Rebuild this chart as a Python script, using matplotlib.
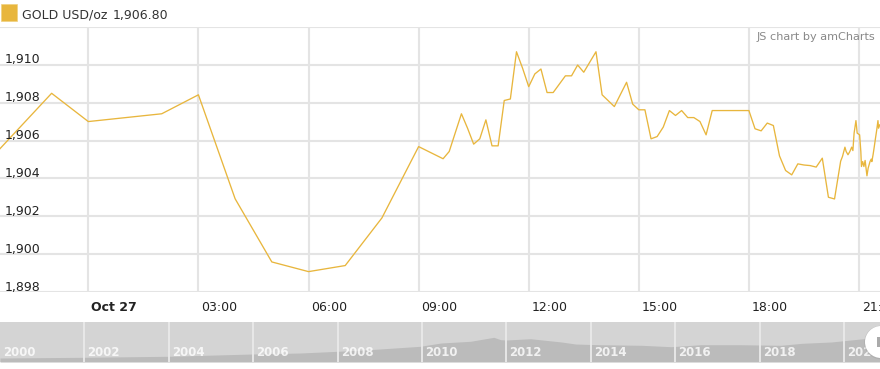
import pandas as pd
import matplotlib
matplotlib.use("Agg")
import matplotlib.pyplot as plt
import matplotlib.dates as mdates
import matplotlib.transforms as mtransforms
from matplotlib.patches import Rectangle, Circle

# gold price, Oct 26 21:35 -> Oct 27 21:34 (2020)
gold_time = [
    "26 21:35", "26 23:00", "27 00:00", "27 02:00", "27 03:00", "27 04:00",
    "27 05:00", "27 06:00", "27 07:00", "27 08:00", "27 09:00", "27 09:40",
    "27 09:50", "27 10:10", "27 10:20", "27 10:30", "27 10:40", "27 10:50",
    "27 11:00", "27 11:10", "27 11:20", "27 11:30", "27 11:40", "27 11:50",
    "27 12:00", "27 12:10", "27 12:20", "27 12:30", "27 12:40", "27 13:00",
    "27 13:10", "27 13:20", "27 13:30", "27 13:50", "27 14:00", "27 14:20",
    "27 14:40", "27 14:50", "27 15:00", "27 15:10", "27 15:20", "27 15:30",
    "27 15:40", "27 15:50", "27 16:00", "27 16:10", "27 16:20", "27 16:30",
    "27 16:40", "27 16:50", "27 17:00", "27 18:00", "27 18:10", "27 18:20",
    "27 18:30", "27 18:40", "27 18:50", "27 19:00", "27 19:10", "27 19:20",
    "27 19:30", "27 19:40", "27 19:50", "27 20:00", "27 20:10", "27 20:20",
    "27 20:30", "27 20:33", "27 20:37", "27 20:39", "27 20:42", "27 20:45",
    "27 20:48", "27 20:50", "27 20:52", "27 20:55", "27 20:56", "27 20:57",
    "27 21:01", "27 21:03", "27 21:04", "27 21:06", "27 21:08", "27 21:10",
    "27 21:13", "27 21:15", "27 21:18", "27 21:20", "27 21:21", "27 21:23",
    "27 21:25", "27 21:27", "27 21:29", "27 21:31", "27 21:32", "27 21:34",
]
gold_price = [
    1905.55, 1908.49, 1907.00, 1907.41, 1908.41, 1902.93,
    1899.60, 1899.09, 1899.41, 1901.92, 1905.68, 1905.04,
    1905.42, 1907.41, 1906.65, 1905.81, 1906.09, 1907.09,
    1905.72, 1905.72, 1908.11, 1908.19, 1910.68, 1909.81,
    1908.84, 1909.51, 1909.77, 1908.53, 1908.53, 1909.41,
    1909.41, 1909.98, 1909.60, 1910.68, 1908.41, 1907.79,
    1909.07, 1907.92, 1907.62, 1907.62, 1906.09, 1906.21,
    1906.71, 1907.58, 1907.32, 1907.58, 1907.21, 1907.21,
    1907.00, 1906.30, 1907.58, 1907.58, 1906.62, 1906.51,
    1906.92, 1906.79, 1905.19, 1904.42, 1904.19, 1904.77,
    1904.71, 1904.68, 1904.60, 1905.07, 1903.01, 1902.92,
    1904.91, 1905.16, 1905.65, 1905.42, 1905.25, 1905.42,
    1905.65, 1905.47, 1906.39, 1907.05, 1906.74, 1906.39,
    1906.30, 1905.42, 1904.63, 1904.89, 1904.63, 1904.95,
    1904.14, 1904.55, 1904.89, 1905.02, 1904.89, 1905.25,
    1905.68, 1906.13, 1906.56, 1907.05, 1906.65, 1906.83,
]
y_ticks = [1898, 1900, 1902, 1904, 1906, 1908, 1910]
x_tick_hours = [0, 3, 6, 9, 12, 15, 18, 21]

# long history shown in the scrollbar
hist_year = [2000.0, 2002.0, 2004.0, 2006.0, 2007.1, 2008.0, 2008.5, 2009.0,
             2009.95, 2010.45, 2011.15, 2011.7, 2011.86, 2012.0, 2012.57,
             2013.3, 2013.64, 2014.2, 2015.2, 2015.9, 2016.6, 2017.55,
             2018.5, 2019.0, 2019.7, 2020.45, 2020.85]
hist_price = [280, 335, 415, 595, 670, 805, 885, 985, 1195, 1455, 1590, 1900,
              1715, 1690, 1790, 1535, 1375, 1320, 1275, 1165, 1320, 1320,
              1275, 1430, 1535, 1790, 1790]
hist_labels = list(range(2000, 2021, 2))

GOLD = "#e8b63d"
GRID = "#e4e4e4"

fig = plt.figure(figsize=(8.8, 3.69), dpi=100)
W, H = 880, 369

ax = fig.add_axes([0, (H - 292.3) / H, 1, (292.3 - 26.7) / H])
t = mdates.date2num(pd.to_datetime(["2020-10-" + s for s in gold_time]).to_pydatetime())
ax.plot(t, gold_price, color=GOLD, lw=0.95, zorder=3)

day0 = pd.Timestamp("2020-10-27 00:00")
ax.set_xlim(mdates.date2num(pd.Timestamp("2020-10-26 21:35:36").to_pydatetime()),
            mdates.date2num(pd.Timestamp("2020-10-27 21:34:20").to_pydatetime()))
ax.set_ylim(1898, 1912)
tick_pos = [mdates.date2num((day0 + pd.Timedelta(hours=h)).to_pydatetime()) for h in x_tick_hours]
ax.set_xticks(tick_pos)
ax.set_yticks(list(range(1898, 1913, 2)))
ax.grid(True, color=GRID, lw=1.5, zorder=0)
ax.tick_params(length=0, labelbottom=False, labelleft=False)
for s in ax.spines.values():
    s.set_visible(False)

# y labels inside the plot, sitting on the grid lines
ytr = mtransforms.blended_transform_factory(ax.transAxes, ax.transData) + \
    mtransforms.ScaledTranslation(0.05, 0.015, fig.dpi_scale_trans)
for v in y_ticks:
    ax.text(0, v, f"{v:,}", transform=ytr, fontsize=9, color="#222222",
            ha="left", va="baseline")

# x labels left-aligned next to the grid lines
xtr = mtransforms.blended_transform_factory(ax.transData, ax.transAxes) + \
    mtransforms.ScaledTranslation(0.03, 0, fig.dpi_scale_trans)
for h, p in zip(x_tick_hours, tick_pos):
    if h == 0:
        ax.text(p, -0.059, "Oct 27", transform=xtr, fontsize=9, fontweight="bold",
                color="#222222", ha="left", va="center", clip_on=False)
    else:
        ax.text(p, -0.059, f"{h:02d}:00", transform=xtr, fontsize=9,
                color="#222222", ha="left", va="center", clip_on=False)

# legend + credit
fig.add_artist(Rectangle((1 / W, (H - 21) / H), 16 / W, 17 / H, transform=fig.transFigure,
                         facecolor=GOLD, edgecolor="#f0d080", lw=0.5))
fig.text(22 / W, 1 - 15 / H, "GOLD USD/oz", fontsize=9, color="#333333", va="center")
fig.text(113 / W, 1 - 15 / H, "1,906.80", fontsize=9, color="#333333", va="center")
fig.text(875 / W, 1 - 37 / H, "JS chart by amCharts", fontsize=8.1, color="#888888",
         ha="right", va="center")

# scrollbar
ax2 = fig.add_axes([0, 7 / H, 1, 40 / H])
ax2.set_facecolor("#d4d4d4")
ax2.fill_between(hist_year, -33, hist_price, color="#bbbbbb", lw=0)
ax2.set_xlim(2000, 2020.85)
ax2.set_ylim(-33, 3100)
ax2.set_xticks([])
ax2.set_yticks([])
for s in ax2.spines.values():
    s.set_visible(False)
str_ = mtransforms.blended_transform_factory(ax2.transData, ax2.transAxes) + \
    mtransforms.ScaledTranslation(0.03, 0, fig.dpi_scale_trans)
for yr in hist_labels:
    if yr > 2000:
        ax2.axvline(yr, color="#eaeaea", lw=1.3)
    ax2.text(yr, 0.25, str(yr), transform=str_, fontsize=8.5, fontweight="bold",
             color="white", alpha=0.8, ha="left", va="center")

# drag handle at the right end
fig.add_artist(Circle((8.81, 0.265), 0.168, transform=fig.dpi_scale_trans,
                      facecolor="#999999", alpha=0.35, lw=0))
fig.add_artist(Circle((8.81, 0.27), 0.16, transform=fig.dpi_scale_trans,
                      facecolor="white", lw=0))
fig.add_artist(Rectangle((8.765, 0.22), 0.04, 0.1, transform=fig.dpi_scale_trans,
                         facecolor="#aaaaaa", lw=0))

fig.savefig("out.png", dpi=100)
